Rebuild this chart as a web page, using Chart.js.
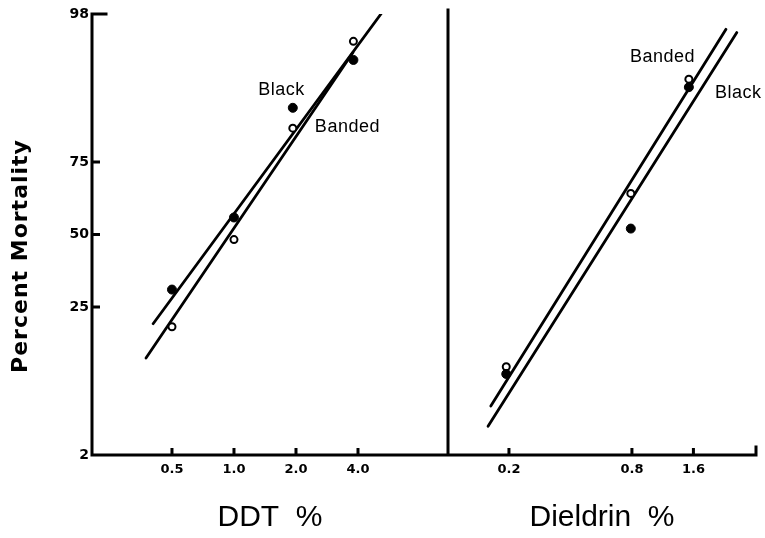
<!DOCTYPE html>
<html>
<head>
<meta charset="utf-8">
<script src="https://cdn.jsdelivr.net/npm/chart.js@4.4.1/dist/chart.umd.min.js"></script>
<style>
  html, body { margin: 0; padding: 0; background: #fff; }
  #wrap { width: 765px; height: 538px; position: relative; }
</style>
</head>
<body>
<div id="wrap"><canvas id="chart"></canvas></div>
<script>
// mortality is in percent (probit axis), dose in % (log axis)
const yTicks = [2, 25, 50, 75, 98];

const ddtTicks = [0.5, 1, 2, 4];
const ddtTickLabels = ["0.5", "1.0", "2.0", "4.0"];
const ddtDose = [0.5, 1.0, 1.93, 3.8];
const ddtBlack = [30.4, 56.3, 88.1, 94.8];
const ddtBanded = [19.5, 48.1, 83.9, 96.4];
const ddtBlackFitX = [0.405, 5.17];
const ddtBlackFitY = [20.3, 98];
const ddtBandedFitX = [0.374, 3.78];
const ddtBandedFitY = [12.5, 95.5];

const dieTicks = [0.2, 0.8, 1.6];
const dieTickLabels = ["0.2", "0.8", "1.6"];
const dieDose = [0.194, 0.79, 1.52];
const dieBlack = [9.7, 52.2, 91.5];
const dieBanded = [10.9, 64.9, 92.6];
const dieBlackFitX = [0.158, 2.61];
const dieBlackFitY = [3.7, 97.0];
const dieBandedFitX = [0.163, 2.31];
const dieBandedFitY = [5.5, 97.2];

// text labels on the lines: [text, axis, dose, percent]
const lineLabels = [
  ["Black", "x", 1.31, 90.3],
  ["Banded", "x", 2.47, 83.0],
  ["Banded", "x2", 0.782, 94.6],
  ["Black", "x2", 2.04, 89.8]
];

// inverse normal (Acklam), p in percent
function probit(p) {
  const q = p / 100;
  const a = [-39.69683028665376, 220.9460984245205, -275.9285104469687, 138.3577518672690, -30.66479806614716, 2.506628277459239];
  const b = [-54.47609879822406, 161.5858368580409, -155.6989798598866, 66.80131188771972, -13.28068155288572];
  const c = [-0.007784894002430293, -0.3223964580411365, -2.400758277161838, -2.549732539343734, 4.374664141464968, 2.938163982698783];
  const d = [0.007784695709041462, 0.3224671290700398, 2.445134137142996, 3.754408661907416];
  const lo = 0.02425;
  let t, r;
  if (q < lo || q > 1 - lo) {
    t = Math.sqrt(-2 * Math.log(q < lo ? q : 1 - q));
    const v = (((((c[0]*t+c[1])*t+c[2])*t+c[3])*t+c[4])*t+c[5]) / ((((d[0]*t+d[1])*t+d[2])*t+d[3])*t+1);
    return q < lo ? v : -v;
  }
  t = q - 0.5; r = t * t;
  return (((((a[0]*r+a[1])*r+a[2])*r+a[3])*r+a[4])*r+a[5])*t / (((((b[0]*r+b[1])*r+b[2])*r+b[3])*r+b[4])*r+1);
}

function pts(xs, ys) {
  return xs.map((x, i) => ({ x: x, y: probit(ys[i]) }));
}

function filledPts(xs, ys, axis) {
  return { data: pts(xs, ys), xAxisID: axis, pointRadius: 4.5, pointBackgroundColor: "#000",
           pointBorderColor: "#000", pointBorderWidth: 1, showLine: false };
}
function openPts(xs, ys, axis) {
  return { data: pts(xs, ys), xAxisID: axis, pointRadius: 3.5, pointBackgroundColor: "#fff",
           pointBorderColor: "#000", pointBorderWidth: 2, showLine: false };
}
function fitLine(xs, ys, axis) {
  return { data: pts(xs, ys), xAxisID: axis, showLine: true, pointRadius: 0,
           borderColor: "#000", borderWidth: 2.8, borderCapStyle: "round" };
}

const yTickFont = { family: "DejaVu Sans", size: 14, weight: "bold" };
const xTickFont = { family: "DejaVu Sans", size: 13, weight: "bold" };
const titleFont = { family: "Liberation Sans", size: 30, weight: "normal" };

function xScale(min, max, ticks, labels, weight, title) {
  return {
    type: "logarithmic", position: "bottom", stack: "bottom", stackWeight: weight,
    min: min, max: max, bounds: "data",
    afterBuildTicks: s => { s.ticks = ticks.map(v => ({ value: v })); },
    ticks: { callback: (v, i) => labels[i], font: xTickFont, color: "#000", padding: 7,
             autoSkip: false, maxRotation: 0 },
    grid: { display: false, drawTicks: false },
    border: { display: false },
    title: { display: true, text: title, font: titleFont, color: "#000", padding: { top: 0, bottom: 2 } },
    afterFit: s => { s.height = 83; }
  };
}

// axes, divider and inward tick marks, plus the text labels
const framePlugin = {
  id: "frame",
  afterDraw(chart) {
    const ctx = chart.ctx;
    const area = chart.chartArea;
    const sx = chart.scales.x, sx2 = chart.scales.x2, sy = chart.scales.y;
    ctx.save();
    ctx.strokeStyle = "#000";
    ctx.lineWidth = 3;
    ctx.lineCap = "square";
    ctx.beginPath();
    ctx.moveTo(area.left + 14, area.top);
    ctx.lineTo(area.left, area.top);
    ctx.lineTo(area.left, area.bottom);
    ctx.lineTo(area.right, area.bottom);
    ctx.lineTo(area.right, area.bottom - 8);
    ctx.moveTo(sx2.left, area.top - 4);
    ctx.lineTo(sx2.left, area.bottom);
    ctx.stroke();

    ctx.lineWidth = 3;
    ctx.lineCap = "butt";
    ctx.beginPath();
    [25, 50, 75].forEach(p => {
      const y = sy.getPixelForValue(probit(p));
      ctx.moveTo(area.left, y);
      ctx.lineTo(area.left + 8, y);
    });
    ddtTicks.forEach(v => {
      const x = sx.getPixelForValue(v);
      ctx.moveTo(x, area.bottom);
      ctx.lineTo(x, area.bottom - 7);
    });
    dieTicks.forEach(v => {
      const x = sx2.getPixelForValue(v);
      ctx.moveTo(x, area.bottom);
      ctx.lineTo(x, area.bottom - 7);
    });
    ctx.stroke();

    ctx.fillStyle = "#000";
    ctx.font = "18px 'Liberation Sans'";
    ctx.letterSpacing = "0.5px";
    ctx.textBaseline = "alphabetic";
    ctx.textAlign = "left";
    lineLabels.forEach(l => {
      const x = chart.scales[l[1]].getPixelForValue(l[2]);
      const y = sy.getPixelForValue(probit(l[3]));
      ctx.fillText(l[0], x, y);
    });

    ctx.font = "bold 22px 'DejaVu Sans'";
    ctx.letterSpacing = "1px";
    ctx.textAlign = "center";
    ctx.textBaseline = "middle";
    ctx.translate(21, 256);
    ctx.rotate(-Math.PI / 2);
    ctx.fillText("Percent Mortality", 0, 0);
    ctx.restore();
  }
};

new Chart(document.getElementById("chart"), {
  type: "scatter",
  data: {
    datasets: [
      filledPts(ddtDose, ddtBlack, "x"),
      openPts(ddtDose, ddtBanded, "x"),
      filledPts(dieDose, dieBlack, "x2"),
      openPts(dieDose, dieBanded, "x2"),
      fitLine(ddtBlackFitX, ddtBlackFitY, "x"),
      fitLine(ddtBandedFitX, ddtBandedFitY, "x"),
      fitLine(dieBlackFitX, dieBlackFitY, "x2"),
      fitLine(dieBandedFitX, dieBandedFitY, "x2")
    ]
  },
  options: {
    responsive: true,
    maintainAspectRatio: false,
    animation: false,
    layout: { padding: { top: 14, right: 9, bottom: 0, left: 0 } },
    plugins: { legend: { display: false }, tooltip: { enabled: false } },
    scales: {
      y: {
        type: "linear", min: probit(2), max: probit(98), bounds: "data",
        afterBuildTicks: s => { s.ticks = yTicks.map(v => ({ value: probit(v) })); },
        ticks: { callback: (v, i) => String(yTicks[i]), font: yTickFont, color: "#000", padding: 3 },
        grid: { display: false, drawTicks: false },
        border: { display: false },
        afterFit: s => { s.width = 92; }
      },
      x: xScale(0.2045, 10.94, ddtTicks, ddtTickLabels, 356, "DDT  %"),
      x2: xScale(0.1006, 3.24, dieTicks, dieTickLabels, 308, "Dieldrin  %")
    }
  },
  plugins: [framePlugin]
});
</script>
</body>
</html>
